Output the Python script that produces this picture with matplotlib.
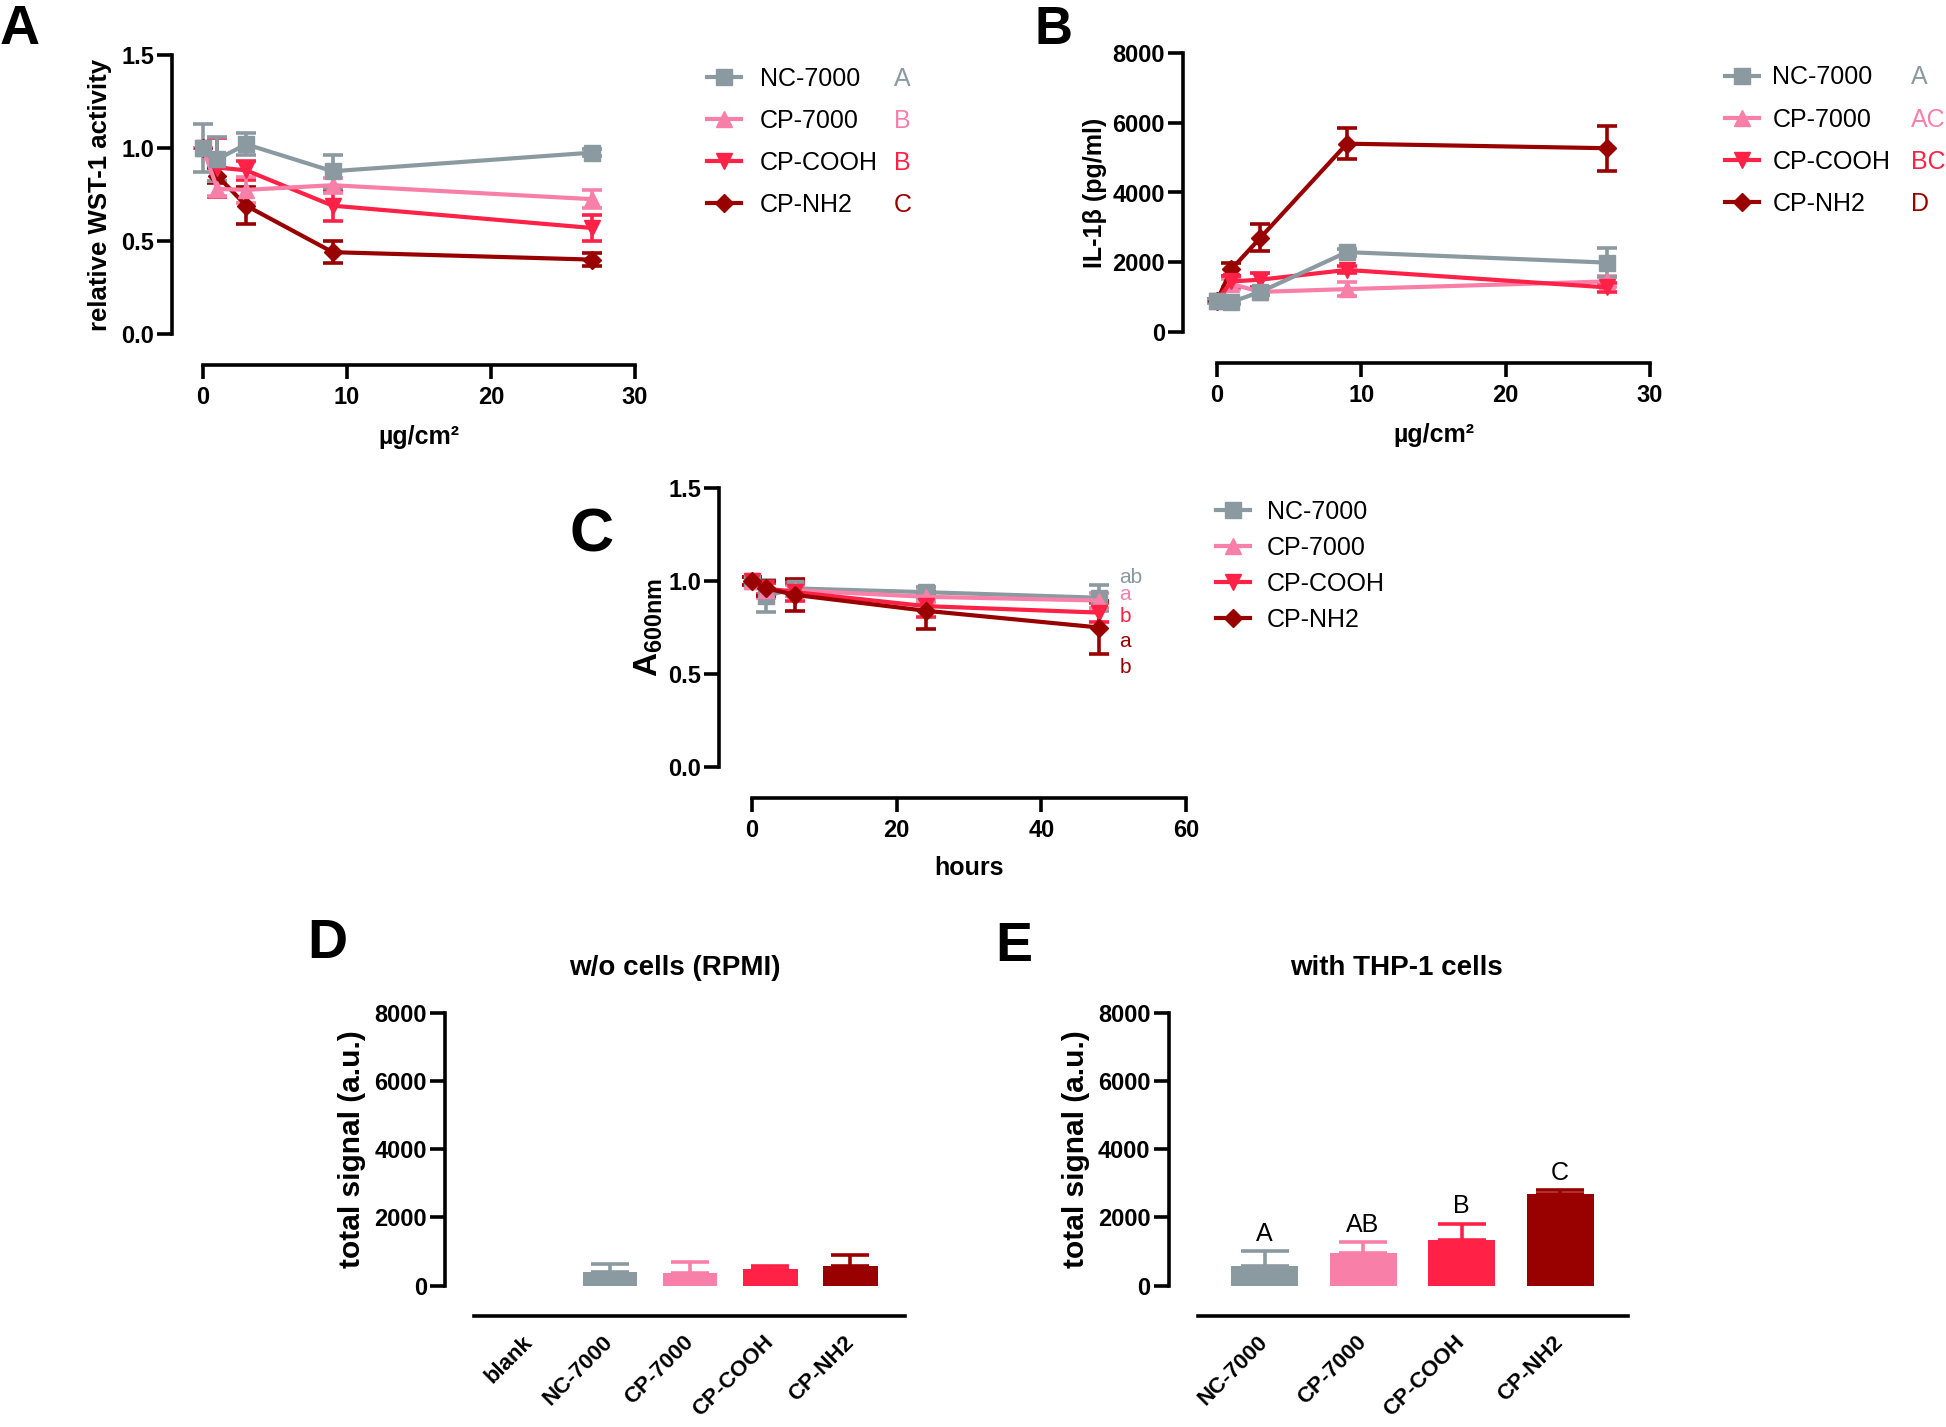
import matplotlib
matplotlib.use("Agg")
import matplotlib.pyplot as plt
from matplotlib.lines import Line2D
import numpy as np

plt.rcParams['font.family'] = ['Liberation Sans', 'DejaVu Sans']
plt.rcParams['mathtext.fontset'] = 'custom'
plt.rcParams['mathtext.bf'] = 'Liberation Sans:bold'
plt.rcParams['mathtext.rm'] = 'Liberation Sans'

# ---------------- data ----------------
series_names = ['NC-7000', 'CP-7000', 'CP-COOH', 'CP-NH2']
series_colors = ['#8B9AA0', '#F880A8', '#FF2146', '#990000']
series_markers = ['s', '^', 'v', 'D']

# Panel A: WST-1 activity vs dose
A_x = [0, 1, 3, 9, 27]
A_nc = [1.00, 0.94, 1.02, 0.875, 0.975]
A_nc_err = [0.13, 0.12, 0.06, 0.09, 0.02]
A_cp = [1.00, 0.78, 0.775, 0.80, 0.725]
A_cp_err = [0.0, 0.04, 0.07, 0.04, 0.05]
A_cooh = [1.00, 0.895, 0.88, 0.69, 0.57]
A_cooh_err = [0.0, 0.16, 0.05, 0.085, 0.07]
A_nh2 = [1.00, 0.85, 0.69, 0.44, 0.40]
A_nh2_err = [0.0, 0.04, 0.10, 0.06, 0.035]
A_letters = ['A', 'B', 'B', 'C']

# Panel B: IL-1beta vs dose
B_x = [0, 1, 3, 9, 27]
B_nc = [880, 860, 1150, 2290, 1990]
B_nc_err = [60, 60, 80, 100, 420]
B_cp = [900, 1380, 1150, 1230, 1450]
B_cp_err = [50, 150, 80, 190, 150]
B_cooh = [900, 1450, 1500, 1780, 1280]
B_cooh_err = [50, 150, 200, 100, 120]
B_nh2 = [900, 1800, 2700, 5400, 5270]
B_nh2_err = [50, 190, 390, 440, 650]
B_letters = ['A', 'AC', 'BC', 'D']

# Panel C: A600 vs time
C_x = [0, 2, 6, 24, 48]
C_nc = [1.00, 0.92, 0.96, 0.94, 0.91]
C_nc_err = [0.02, 0.085, 0.04, 0.03, 0.07]
C_cp = [1.00, 0.95, 0.95, 0.915, 0.895]
C_cp_err = [0.02, 0.04, 0.03, 0.03, 0.04]
C_cooh = [1.00, 0.96, 0.94, 0.865, 0.83]
C_cooh_err = [0.02, 0.03, 0.05, 0.06, 0.05]
C_nh2 = [1.00, 0.96, 0.925, 0.84, 0.75]
C_nh2_err = [0.02, 0.04, 0.085, 0.10, 0.14]
C_letters = ['ab', 'a', 'b', 'a', 'b']
C_letter_y = [1.02, 0.93, 0.81, 0.675, 0.535]
C_letter_colors = ['#8B9AA0', '#F880A8', '#FF2146', '#990000', '#990000']

# Panel D: total signal without cells
D_cats = ['blank', 'NC-7000', 'CP-7000', 'CP-COOH', 'CP-NH2']
D_vals = [0, 390, 360, 480, 590]
D_err = [0, 245, 340, 95, 300]
D_colors = ['#FFFFFF', '#8B9AA0', '#F880A8', '#FF2146', '#990000']

# Panel E: total signal with THP-1 cells
E_cats = ['NC-7000', 'CP-7000', 'CP-COOH', 'CP-NH2']
E_vals = [575, 950, 1330, 2700]
E_err = [440, 320, 480, 95]
E_letters = ['A', 'AB', 'B', 'C']

# ---------------- figure ----------------
W, H = 1946, 1427
fig = plt.figure(figsize=(W / 100, H / 100), dpi=100)
PT = 0.72  # points per pixel


def axes_px(left, right, top, bottom):
    return fig.add_axes([left / W, 1 - bottom / H, (right - left) / W, (bottom - top) / H])


def style(ax, off_left, off_bottom, xticks=True):
    for s in ['top', 'right']:
        ax.spines[s].set_visible(False)
    for s in ['left', 'bottom']:
        ax.spines[s].set_linewidth(2.6)
    ax.spines['left'].set_position(('outward', off_left * PT))
    ax.spines['bottom'].set_position(('outward', off_bottom * PT))
    ax.tick_params(axis='y', direction='out', length=11, width=2.6, labelsize=17, pad=2)
    if xticks:
        ax.tick_params(axis='x', direction='out', length=10, width=2.6, labelsize=17, pad=5)
    for lab in ax.get_xticklabels() + ax.get_yticklabels():
        lab.set_fontweight('bold')


def line_panel(ax, x, ys, errs, order):
    for i in order:
        cont = ax.errorbar(x, ys[i], yerr=errs[i], color=series_colors[i],
                           marker=series_markers[i],
                           ms=9 if series_markers[i] == 'D' else 12,
                           lw=3, elinewidth=2.6, capsize=7, capthick=2.6)
        cont[0].set_clip_on(False)
        for c in cont[1]:
            c.set_clip_on(False)
        for b in cont[2]:
            b.set_clip_on(False)


def legends(handle_left, first_row_y, letter_left, spacing, letters, textpad=0.75):
    handles = [Line2D([], [], color=series_colors[i], marker=series_markers[i],
                      ms=9 if series_markers[i] == 'D' else 12, lw=3)
               for i in range(4)]
    fs = 18
    rowh = 23.8  # px
    lab_sp = ((spacing - rowh) * PT) / fs
    top = first_row_y - 10.5
    fig.legend(handles, series_names, loc='upper left',
               bbox_to_anchor=(handle_left / W, 1 - top / H),
               frameon=False, fontsize=fs, handlelength=1.35, handletextpad=textpad,
               borderpad=0, borderaxespad=0, labelspacing=lab_sp)
    if letters is not None:
        dummy = [Line2D([], [], ls='none') for _ in letters]
        fig.legend(dummy, letters, loc='upper left',
                   bbox_to_anchor=(letter_left / W, 1 - top / H),
                   frameon=False, fontsize=fs, handlelength=0, handletextpad=0,
                   borderpad=0, borderaxespad=0, labelspacing=lab_sp,
                   labelcolor=series_colors)


# ---- Panel A ----
axA = axes_px(203, 635, 55, 334)
line_panel(axA, A_x, [A_nc, A_cp, A_cooh, A_nh2],
           [A_nc_err, A_cp_err, A_cooh_err, A_nh2_err], [3, 2, 1, 0])
axA.set_xlim(0, 30)
axA.set_ylim(0, 1.5)
axA.set_xticks([0, 10, 20, 30])
axA.set_yticks([0, 0.5, 1.0, 1.5])
axA.yaxis.set_major_formatter(plt.FormatStrFormatter('%.1f'))
style(axA, 31, 31)
axA.set_xlabel('µg/cm²', fontsize=18, fontweight='bold', labelpad=12)
axA.set_ylabel('relative WST-1 activity', fontsize=18.5, fontweight='bold', va='center')
axA.yaxis.set_label_coords(-0.238, 0.5)
legends(707, 77, 894, 42, A_letters)

# ---- Panel B ----
axB = axes_px(1217, 1650, 53, 332)
line_panel(axB, B_x, [B_nc, B_cp, B_cooh, B_nh2],
           [B_nc_err, B_cp_err, B_cooh_err, B_nh2_err], [3, 1, 2, 0])
axB.set_xlim(0, 30)
axB.set_ylim(0, 8000)
axB.set_xticks([0, 10, 20, 30])
axB.set_yticks([0, 2000, 4000, 6000, 8000])
style(axB, 34, 31)
axB.set_xlabel('µg/cm²', fontsize=18, fontweight='bold', labelpad=12)
axB.set_ylabel('IL-1β (pg/ml)', fontsize=18, fontweight='bold', va='center')
axB.yaxis.set_label_coords(-0.282, 0.5)
legends(1725, 76, 1911, 42, B_letters, textpad=0.55)

# ---- Panel C ----
axC = axes_px(752, 1186, 488, 767)
line_panel(axC, C_x, [C_nc, C_cp, C_cooh, C_nh2],
           [C_nc_err, C_cp_err, C_cooh_err, C_nh2_err], [0, 1, 2, 3])
axC.set_xlim(0, 60)
axC.set_ylim(0, 1.5)
axC.set_xticks([0, 20, 40, 60])
axC.set_yticks([0, 0.5, 1.0, 1.5])
axC.yaxis.set_major_formatter(plt.FormatStrFormatter('%.1f'))
style(axC, 33, 31)
axC.set_xlabel('hours', fontsize=18, fontweight='bold', labelpad=10)
axC.set_ylabel(r'A$_{\mathbf{600nm}}$', fontsize=24, fontweight='bold', va='center')
axC.yaxis.set_label_coords(-0.237, 0.5)
for lab, yv, col in zip(C_letters, C_letter_y, C_letter_colors):
    axC.text(50.8, yv, lab, color=col, fontsize=15, ha='left', va='center')
legends(1216, 510, None, 36, None, textpad=0.7)

# ---- Panel D ----
axD = axes_px(473.6, 905, 1012.7, 1285.7)
xd = np.arange(len(D_cats))
axD.bar(xd, D_vals, width=0.68, color=D_colors)
for i in range(len(D_cats)):
    if D_vals[i] > 0:
        axD.errorbar(xd[i], D_vals[i], yerr=[[0], [D_err[i]]], color=D_colors[i],
                     elinewidth=2.6, capsize=14, capthick=2.6, fmt='none')
axD.set_xlim(-0.7, len(D_cats) - 1 + 0.68)
axD.set_ylim(0, 8000)
axD.set_yticks([0, 2000, 4000, 6000, 8000])
axD.set_xticks(xd)
axD.set_xticklabels(D_cats)
style(axD, 28.6, 30, xticks=False)
axD.tick_params(axis='x', length=0, pad=17, labelsize=16)
for lab in axD.get_xticklabels():
    lab.set_rotation(45)
    lab.set_ha('right')
    lab.set_va('center')
    lab.set_rotation_mode('anchor')
    lab.set_fontweight('bold')
axD.set_ylabel('total signal (a.u.)', fontsize=21.5, fontweight='bold', va='center')
axD.yaxis.set_label_coords(-0.281, 0.5)
axD.set_title('w/o cells (RPMI)', fontsize=20, fontweight='bold', pad=27, x=0.467)

# ---- Panel E ----
axE = axes_px(1197.6, 1628, 1012.7, 1285.7)
xe = np.arange(len(E_cats))
axE.bar(xe, E_vals, width=0.68, color=series_colors)
for i in range(len(E_cats)):
    axE.errorbar(xe[i], E_vals[i], yerr=[[0], [E_err[i]]], color=series_colors[i],
                 elinewidth=2.6, capsize=17, capthick=2.6, fmt='none')
    axE.annotate(E_letters[i], (xe[i], E_vals[i] + E_err[i]), xytext=(0, 4),
                 textcoords='offset points', ha='center', va='bottom', fontsize=18)
axE.set_xlim(-0.68, len(E_cats) - 1 + 0.69)
axE.set_ylim(0, 8000)
axE.set_yticks([0, 2000, 4000, 6000, 8000])
axE.set_xticks(xe)
axE.set_xticklabels(E_cats)
style(axE, 29, 30, xticks=False)
axE.tick_params(axis='x', length=0, pad=17, labelsize=16)
for lab in axE.get_xticklabels():
    lab.set_rotation(45)
    lab.set_ha('right')
    lab.set_va('center')
    lab.set_rotation_mode('anchor')
    lab.set_fontweight('bold')
axE.set_ylabel('total signal (a.u.)', fontsize=21.5, fontweight='bold', va='center')
axE.yaxis.set_label_coords(-0.283, 0.5)
axE.set_title('with THP-1 cells', fontsize=20, fontweight='bold', pad=27, x=0.463)

# ---- panel letters ----
for lab, xp, yb, fs in [('A', 0, 44, 40), ('B', 1034, 44, 38), ('C', 570, 552, 44),
                        ('D', 307, 958, 40), ('E', 995, 961, 40)]:
    fig.text(xp / W, 1 - yb / H, lab, fontsize=fs, fontweight='bold',
             ha='left', va='baseline')

fig.savefig('out.png', dpi=100)
